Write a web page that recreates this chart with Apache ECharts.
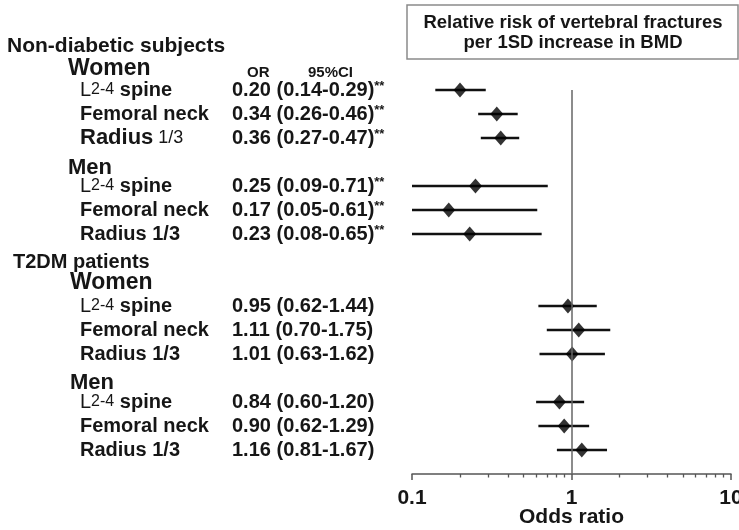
<!DOCTYPE html>
<html>
<head>
<meta charset="utf-8">
<script src="https://cdn.jsdelivr.net/npm/echarts@6/dist/echarts.min.js"></script>
<style>
html,body{margin:0;padding:0;background:#fff;}
#chart{width:739px;height:530px;}
</style>
</head>
<body>
<div id="chart"></div>
<script>
// ---- data ----
// rows (empty strings are spacer rows between groups)
const rowLabels = ['L2-4 spine','Femoral neck','Radius 1/3','',
                   'L2-4 spine','Femoral neck','Radius 1/3','','',
                   'L2-4 spine','Femoral neck','Radius 1/3','',
                   'L2-4 spine','Femoral neck','Radius 1/3',''];
const orValues = [0.20,0.34,0.36,null, 0.25,0.17,0.23,null,null, 0.95,1.11,1.01,null, 0.84,0.90,1.16,null];
const ciLow    = [0.14,0.26,0.27,null, 0.09,0.05,0.08,null,null, 0.62,0.70,0.63,null, 0.60,0.62,0.81,null];
const ciHigh   = [0.29,0.46,0.47,null, 0.71,0.61,0.65,null,null, 1.44,1.75,1.62,null, 1.20,1.29,1.67,null];
const signif   = ['**','**','**','', '**','**','**','','', '','','','', '','','',''];
const xTickLabels = {0.1:'0.1', 1:'1', 10:'10'};
const minorTickValues = [0.2,0.3,0.4,0.5,0.6,0.7,0.8,0.9,2,3,4,5,6,7,8,9];
const titleLines = ['Relative risk of vertebral fractures','per 1SD increase in BMD'];
const groupHeaders = ['Non-diabetic subjects','T2DM patients'];
const sexHeaders = ['Women','Men'];
const colHeaders = ['OR','95%CI'];
const xAxisName = 'Odds ratio';

// ---- chart ----
const FF = '"Liberation Sans", Arial, Helvetica, sans-serif';
const TXT = '#161616';
const chart = echarts.init(document.getElementById('chart'), null, {renderer:'canvas'});

const scatterData = [];
const ciData = [];
orValues.forEach((v, i) => {
  if (v != null) {
    scatterData.push([v, i]);
    ciData.push([ciLow[i], ciHigh[i], i]);
  }
});

function nameFormatter(value, idx) {
  const name = rowLabels[idx];
  if (!name) return '';
  if (name.indexOf('L2-4') === 0) {
    return '{l|L}{s|2-4}{b|' + name.slice(4) + '}';
  }
  if (idx === 2 && name.indexOf('Radius') === 0) {
    return '{big|Radius}{s2| 1/3}';
  }
  return '{b|' + name + '}';
}
function orFormatter(value, idx) {
  const v = orValues[idx];
  if (v == null) return '';
  const t = v.toFixed(2) + ' (' + ciLow[idx].toFixed(2) + '-' + ciHigh[idx].toFixed(2) + ')';
  return '{b|' + t + '}' + (signif[idx] ? '{sup|' + signif[idx] + '}' : '');
}

const richBase = {
  b: {fontSize: 20, fontWeight: 'bold', fontFamily: FF, color: TXT},
  l: {fontSize: 20, fontWeight: 'normal', fontFamily: FF, color: TXT},
  s: {fontSize: 16, fontWeight: 'normal', fontFamily: FF, color: TXT},
  big: {fontSize: 22, fontWeight: 'bold', fontFamily: FF, color: TXT},
  s2: {fontSize: 18, fontWeight: 'normal', fontFamily: FF, color: TXT},
  sup: {fontSize: 13, fontWeight: 'bold', fontFamily: FF, color: TXT, verticalAlign: 'top', padding: [0,0,6,0]}
};

const headerText = (text, left, top, size) => ({
  type: 'text', left: left, top: top,
  style: {text: text, fill: TXT, font: 'bold ' + size + 'px ' + FF}
});

const option = {
  animation: false,
  backgroundColor: '#fff',
  grid: {left: 412, right: 8, top: 90, bottom: 56, containLabel: false, outerBoundsMode: 'none'},
  xAxis: [{
    type: 'log', logBase: 10, min: 0.1, max: 10, position: 'bottom',
    axisLine: {show: true, lineStyle: {color: '#555', width: 1.5}},
    axisTick: {show: true, length: 6, lineStyle: {color: '#555', width: 1.5}},
    axisLabel: {
      show: true, margin: 14, color: TXT, fontSize: 21, fontWeight: 'bold', fontFamily: FF,
      hideOverlap: false,
      formatter: v => (xTickLabels[v] !== undefined ? xTickLabels[v] : String(v))
    },
    splitLine: {show: false},
    name: xAxisName, nameLocation: 'middle', nameGap: 33, nameMoveOverlap: false,
    nameTextStyle: {color: TXT, fontSize: 21, fontWeight: 'bold', fontFamily: FF}
  }, {
    type: 'log', logBase: 10, min: 0.1, max: 10, position: 'bottom',
    axisLine: {show: false},
    axisTick: {show: true, length: 3.5, customValues: minorTickValues, lineStyle: {color: '#555', width: 1.3}},
    axisLabel: {show: false},
    splitLine: {show: false}
  }],
  yAxis: [{
    type: 'category', data: rowLabels, inverse: true, boundaryGap: false, position: 'left',
    axisLine: {show: false}, axisTick: {show: false}, splitLine: {show: false},
    axisLabel: {show: true, interval: 0, align: 'left', margin: 332, formatter: nameFormatter, rich: richBase}
  }, {
    type: 'category', data: rowLabels, inverse: true, boundaryGap: false, position: 'left',
    axisLine: {show: false}, axisTick: {show: false}, splitLine: {show: false},
    axisLabel: {show: true, interval: 0, align: 'left', margin: 180, formatter: orFormatter, rich: richBase}
  }],
  series: [{
    type: 'custom',
    xAxisIndex: 0, yAxisIndex: 0,
    data: ciData,
    encode: {x: [0, 1], y: 2},
    renderItem: function (params, api) {
      const cs = params.coordSys;
      const p1 = api.coord([api.value(0), api.value(2)]);
      const p2 = api.coord([api.value(1), api.value(2)]);
      const x1 = Math.max(p1[0], cs.x);
      const x2 = Math.min(p2[0], cs.x + cs.width);
      return {
        type: 'line',
        shape: {x1: x1, y1: p1[1], x2: x2, y2: p1[1]},
        style: {stroke: '#111', lineWidth: 2.6}
      };
    },
    z: 2
  }, {
    type: 'scatter',
    xAxisIndex: 0, yAxisIndex: 0,
    data: scatterData,
    symbol: 'diamond',
    symbolSize: [13, 15],
    itemStyle: {color: '#000'},
    z: 3,
    markLine: {
      silent: true, symbol: ['none', 'none'],
      label: {show: false},
      lineStyle: {color: '#666', width: 1.5, type: 'solid'},
      data: [{xAxis: 1}]
    }
  }],
  graphic: [
    {type: 'rect', shape: {x: 407, y: 5, width: 331, height: 54},
     style: {fill: '#fff', stroke: '#8a8a8a', lineWidth: 1.5}},
    {type: 'text', x: 573, y: 23,
     style: {text: titleLines[0], fill: TXT, font: 'bold 18.5px ' + FF, align: 'center', verticalAlign: 'middle'}},
    {type: 'text', x: 573, y: 43,
     style: {text: titleLines[1], fill: TXT, font: 'bold 18.5px ' + FF, align: 'center', verticalAlign: 'middle'}},
    headerText(groupHeaders[0], 7, 36, 21),
    headerText(sexHeaders[0], 68, 57, 23),
    headerText(colHeaders[0], 247, 65, 15),
    headerText(colHeaders[1], 308, 65, 15),
    headerText(sexHeaders[1], 68, 157, 22),
    headerText(groupHeaders[1], 13, 252, 20),
    headerText(sexHeaders[0], 70, 271, 23),
    headerText(sexHeaders[1], 70, 372, 22)
  ]
};
chart.setOption(option);
</script>
</body>
</html>
